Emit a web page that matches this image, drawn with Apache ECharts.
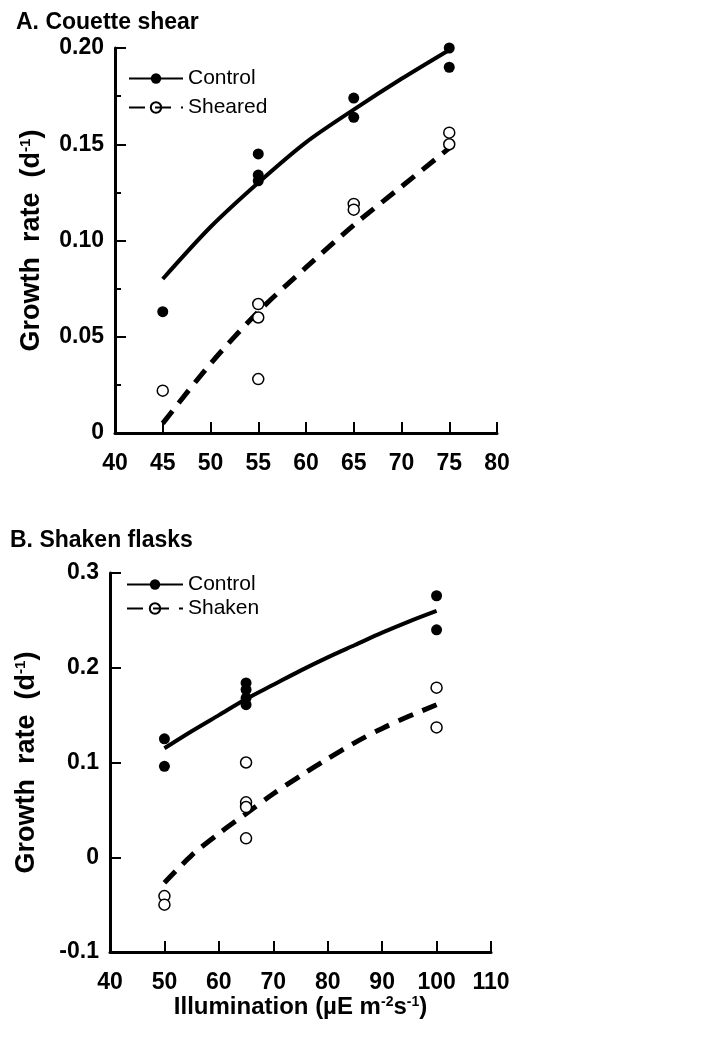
<!DOCTYPE html>
<html>
<head>
<meta charset="utf-8">
<script src="https://cdn.jsdelivr.net/npm/echarts@6/dist/echarts.min.js"></script>
<style>
  html, body { margin: 0; padding: 0; background: #fff; }
  #main { width: 705px; height: 1049px; }
</style>
</head>
<body>
<div id="main"></div>
<script>
// panel A: Couette shear
var aControlX = [45, 55, 55, 55, 65, 65, 75, 75];
var aControlY = [0.063, 0.145, 0.134, 0.131, 0.174, 0.164, 0.200, 0.190];
var aShearedX = [45, 55, 55, 55, 65, 65, 75, 75];
var aShearedY = [0.022, 0.067, 0.060, 0.028, 0.119, 0.116, 0.156, 0.150];
var aFitX = [45, 50, 55, 60, 65, 70, 75];
var aControlFit = [0.080, 0.107, 0.130, 0.151, 0.168, 0.184, 0.199];
var aShearedFit = [0.005, 0.036, 0.063, 0.086, 0.108, 0.128, 0.148];

// panel B: Shaken flasks
var bControlX = [50, 50, 65, 65, 65, 65, 100, 100];
var bControlY = [0.125, 0.096, 0.184, 0.177, 0.168, 0.161, 0.276, 0.240];
var bShakenX = [50, 50, 65, 65, 65, 65, 100, 100];
var bShakenY = [-0.041, -0.050, 0.100, 0.058, 0.053, 0.020, 0.179, 0.137];
var bFitX = [50, 55, 60, 65, 70, 75, 80, 85, 90, 95, 100];
var bControlFit = [0.115, 0.133, 0.150, 0.167, 0.182, 0.197, 0.211, 0.224, 0.237, 0.249, 0.260];
var bShakenFit = [-0.027, 0.002, 0.025, 0.046, 0.067, 0.086, 0.104, 0.121, 0.136, 0.149, 0.161];

var FONT = '"Liberation Sans", Arial, Helvetica, sans-serif';

function zip(xs, ys) {
  return xs.map(function (x, i) { return [x, ys[i]] })
}

// common axis look
function xAxisOf(grid, min, max, step) {
  return {
    type: 'value', gridIndex: grid, min: min, max: max, interval: step,
    axisLine: { onZero: false, lineStyle: { color: '#000', width: 3 } },
    axisTick: { inside: true, length: 11, lineStyle: { color: '#000', width: 2 } },
    axisLabel: { color: '#000', fontSize: 23, fontWeight: 'bold', fontFamily: FONT, margin: 19 },
    splitLine: { show: false }
  }
}
function yAxisOf(grid, min, max, step, digits) {
  return {
    type: 'value', gridIndex: grid, min: min, max: max, interval: step,
    axisLine: { show: true, onZero: false, lineStyle: { color: '#000', width: 3 } },
    axisTick: { inside: true, length: 11, lineStyle: { color: '#000', width: 2 } },
    axisLabel: {
      color: '#000', fontSize: 23, fontWeight: 'bold', fontFamily: FONT, margin: 11,
      formatter: function (v) { return Math.abs(v) < 1e-9 ? '0' : v.toFixed(digits) }
    },
    splitLine: { show: false },
    name: '{a|Growth  rate  (d}{s|-1}{a|)}',
    nameLocation: 'middle', nameGap: 70,
    nameTextStyle: {
      rich: {
        a: { fontSize: 27, fontWeight: 'bold', fontFamily: FONT, color: '#000' },
        s: { fontSize: 15, fontWeight: 'bold', fontFamily: FONT, color: '#000', verticalAlign: 'top' }
      }
    }
  }
}

var solid = { color: '#000', width: 4 };
var dashed = { color: '#000', width: 5, type: [16, 10] };
var filled = { color: '#000', opacity: 1 };
var open = { color: '#fff', borderColor: '#000', borderWidth: 1.5, opacity: 1 };
var openLegend = { color: 'rgba(255,255,255,0)', borderColor: '#000', borderWidth: 1.5 };

function fitLine(name, idx, xs, ys, ls, sym) {
  return {
    name: name, type: 'line', xAxisIndex: idx, yAxisIndex: idx,
    data: zip(xs, ys), smooth: 0.3, showSymbol: false,
    symbol: 'circle', symbolSize: 11, lineStyle: ls, itemStyle: sym,
    silent: true, z: 2
  }
}
function dots(name, idx, xs, ys, sym) {
  return {
    name: name, type: 'scatter', xAxisIndex: idx, yAxisIndex: idx,
    data: zip(xs, ys), symbol: 'circle', symbolSize: 11, itemStyle: sym, z: 3
  }
}

var myChart = echarts.init(document.getElementById('main'));
var yA = yAxisOf(0, 0, 0.2, 0.05, 2);
yA.minorTick = { show: true, splitNumber: 2, length: 6, lineStyle: { color: '#000', width: 2 } };
var yB = yAxisOf(1, -0.1, 0.3, 0.1, 1);
var xB = xAxisOf(1, 40, 110, 10);
xB.name = '{a|Illumination (\u00b5E m}{s|-2}{a|s}{s|-1}{a|)}';
xB.nameLocation = 'middle';
xB.nameGap = 40;
xB.nameTextStyle = {
  rich: {
    a: { fontSize: 24, fontWeight: 'bold', fontFamily: FONT, color: '#000' },
    s: { fontSize: 14, fontWeight: 'bold', fontFamily: FONT, color: '#000', verticalAlign: 'top' }
  }
};

myChart.setOption({
  backgroundColor: '#fff',
  animation: false,
  title: [
    { text: 'A. Couette shear', left: 16, top: 11, padding: 0,
      textStyle: { fontSize: 23, fontWeight: 'bold', fontFamily: FONT, color: '#000' } },
    { text: 'B. Shaken flasks', left: 10, top: 529, padding: 0,
      textStyle: { fontSize: 23, fontWeight: 'bold', fontFamily: FONT, color: '#000' } }
  ],
  legend: [
    { data: ['Control', 'Sheared'], orient: 'vertical', left: 128, top: 68, padding: 0,
      itemWidth: 54, itemHeight: 13, itemGap: 8, selectedMode: false,
      textStyle: { fontSize: 21, fontFamily: FONT, color: '#000' } },
    { data: ['Control ', 'Shaken'], orient: 'vertical', left: 126, top: 574, padding: 0,
      itemWidth: 56, itemHeight: 13, itemGap: 3, selectedMode: false,
      textStyle: { fontSize: 21, fontFamily: FONT, color: '#000' } }
  ],
  grid: [
    { left: 115, top: 48, width: 382, height: 385 },
    { left: 110, top: 573, width: 381, height: 379 }
  ],
  xAxis: [xAxisOf(0, 40, 80, 5), xB],
  yAxis: [yA, yB],
  series: [
    fitLine('Control', 0, aFitX, aControlFit, solid, filled),
    fitLine('Sheared', 0, aFitX, aShearedFit, dashed, openLegend),
    dots('Control pts A', 0, aControlX, aControlY, filled),
    dots('Sheared pts', 0, aShearedX, aShearedY, open),
    fitLine('Control ', 1, bFitX, bControlFit, solid, filled),
    fitLine('Shaken', 1, bFitX, bShakenFit, dashed, openLegend),
    dots('Control pts B', 1, bControlX, bControlY, filled),
    dots('Shaken pts', 1, bShakenX, bShakenY, open)
  ]
});
</script>
</body>
</html>
